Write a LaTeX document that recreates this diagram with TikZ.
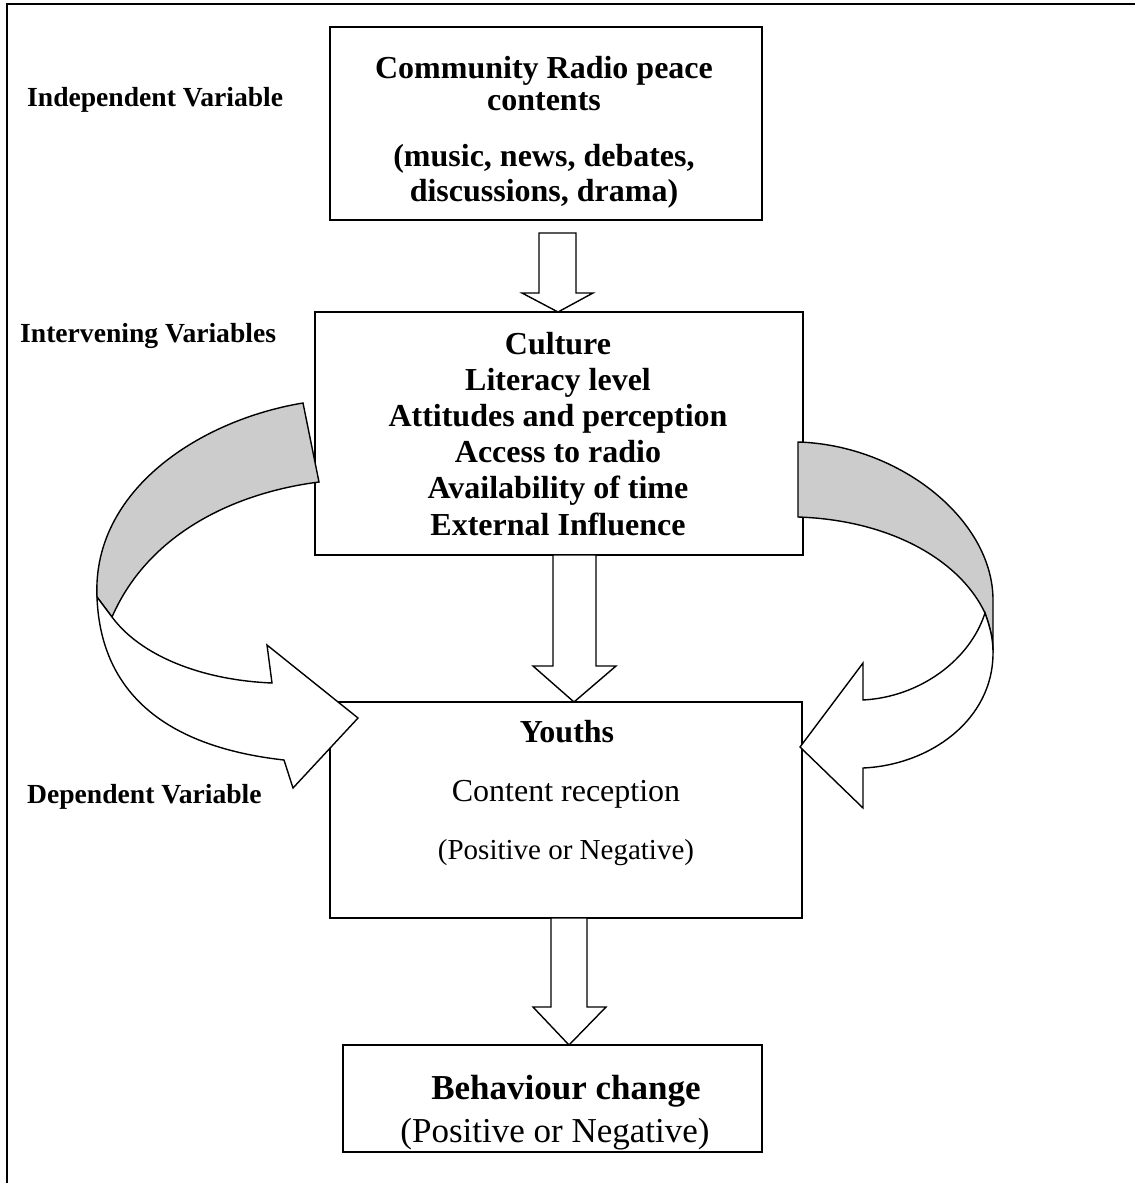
\documentclass[tikz,border=0pt]{standalone}
\usepackage{fontspec}
\setmainfont{Liberation Serif}
\definecolor{ribbon}{RGB}{204,204,204}
\begin{document}
\begin{tikzpicture}[x=1pt,y=-1pt,
  box/.style={draw, line width=1.6pt, inner sep=0pt},
  blk/.style={draw, line width=1.4pt, fill=white, line join=miter},
  rib/.style={draw, line width=1.4pt, line join=miter},
  txt/.style={inner sep=0pt, anchor=base},
  lbl/.style={inner sep=0pt, anchor=base west, font=\bfseries\fontsize{27.6}{32}\selectfont},
  bt/.style={txt, font=\bfseries\fontsize{32}{36}\selectfont},
  rt/.style={txt, font=\fontsize{32}{36}\selectfont}]
\useasboundingbox (0,0) rectangle (1135,1183);
% frame
\draw[line width=2.5pt] (7,1183) -- (7,4) -- (1135,4);
% boxes
\node[box, minimum width=432pt, minimum height=193pt] (b1) at (546,123.5) {};
\node[box, minimum width=488pt, minimum height=243pt] (b2) at (559,433.5) {};
\node[box, minimum width=472pt, minimum height=216pt] (b3) at (566,810) {};
\node[box, minimum width=419pt, minimum height=107pt] (b4) at (552.5,1098.5) {};
% labels
\node[lbl] (l1) at (27,106) {Independent Variable};
\node[lbl] (l2) at (20,342) {Intervening Variables};
\node[lbl] (l3) at (27,803) {Dependent Variable};
% box 1 text
\node[bt] (t11) at (544,78) {Community Radio peace};
\node[bt] (t12) at (544,110) {contents};
\node[bt] (t13) at (544,166) {(music, news, debates,};
\node[bt] (t14) at (544,201) {discussions, drama)};
% box 2 text
\node[bt] (t21) at (558,354) {Culture};
\node[bt] (t22) at (558,390.2) {Literacy level};
\node[bt] (t23) at (558,426.4) {Attitudes and perception};
\node[bt] (t24) at (558,462.6) {Access to radio};
\node[bt] (t25) at (558,498.8) {Availability of time};
\node[bt] (t26) at (558,535) {External Influence};
% box 3 text
\node[bt] (t31) at (567,742) {Youths};
\node[rt] (t32) at (566,801) {Content reception};
\node[txt, font=\fontsize{29}{34}\selectfont] (t33) at (566,859) {(Positive or Negative)};
% box 4 text
\node[txt, font=\bfseries\fontsize{35}{40}\selectfont] (t41) at (566,1099) {Behaviour change};
\node[txt, font=\fontsize{35}{40}\selectfont] (t42) at (555,1142) {(Positive or Negative)};
% straight block arrows
\draw[blk] (539,233) -- (576,233) -- (576,293) -- (593,293) -- (558,312) -- (522,293) -- (539,293) -- cycle;
\draw[blk] (553,555) -- (596,555) -- (596,666) -- (616,666) -- (574,702) -- (533,666) -- (553,666) -- cycle;
\draw[blk] (551,918) -- (587,918) -- (587,1007) -- (606,1007) -- (569,1045) -- (533,1007) -- (551,1007) -- cycle;
% left curved arrow
\draw[rib, fill=ribbon] (303,403) .. controls (200,420) and (92,490) .. (97,597)
  -- (112,617) .. controls (150,530) and (240,492) .. (319,482) -- cycle;
\draw[rib, fill=white] (97,597) .. controls (100,680) and (150,745) .. (284,760)
  -- (293,788) -- (358,718) -- (267,645) -- (272,683)
  .. controls (200,680) and (140,655) .. (112,617) -- cycle;
% right curved arrow
\draw[rib, fill=ribbon] (798,442) .. controls (900,445) and (993,520) .. (993,600)
  -- (993,653) .. controls (993,640) and (991,630) .. (985,613)
  .. controls (960,560) and (890,520) .. (798,517) -- cycle;
\draw[rib, fill=white] (993,653) .. controls (993,720) and (930,765) .. (863,768)
  -- (863,808) -- (800,747) -- (863,663) -- (863,700)
  .. controls (920,697) and (970,660) .. (985,613)
  .. controls (991,630) and (993,640) .. (993,653) -- cycle;
\end{tikzpicture}
\end{document}
